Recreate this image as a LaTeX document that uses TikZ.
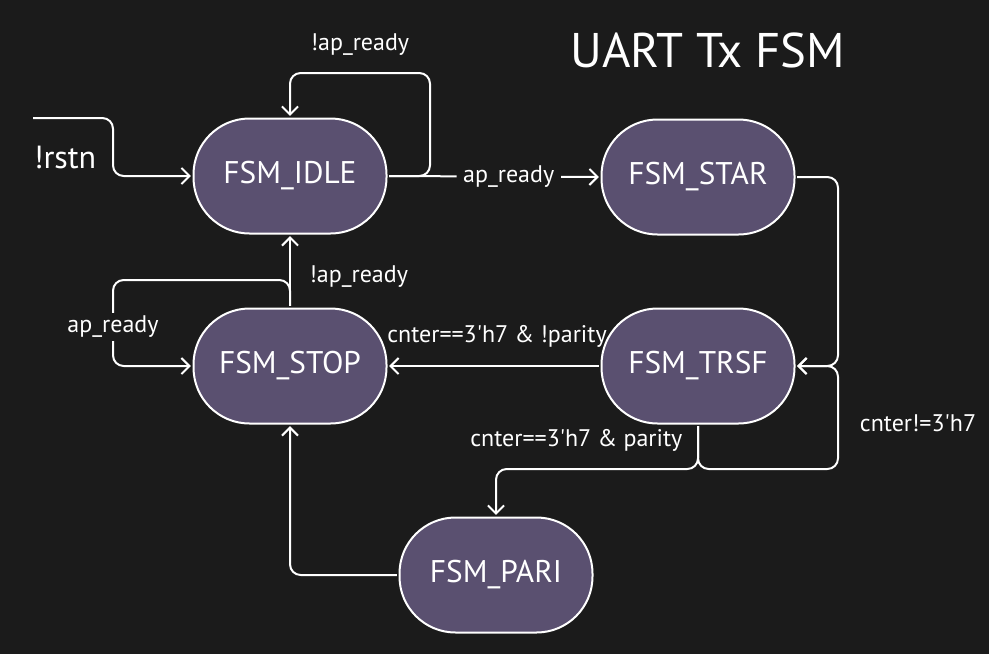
\documentclass[tikz,border=0pt]{standalone}
\usepackage{fontspec}
\setmainfont{PT Sans}
\usetikzlibrary{arrows.meta}
\definecolor{bg}{HTML}{1B1B1B}
\definecolor{statefill}{HTML}{5A5070}
\tikzset{
  state/.style={draw=white, line width=1.5pt, fill=statefill, rounded corners=42pt,
    minimum width=144.75pt, minimum height=86.25pt, text=white,
    font=\fontsize{23.5}{26}\selectfont, outer sep=2pt},
  conn/.style={draw=white, line width=1.5pt, rounded corners=8pt},
  arr/.style={conn, -{Straight Barb[length=6pt,width=12pt,line width=1.5pt]}},
  lab/.style={text=white, font=\fontsize{18}{20}\selectfont, inner sep=1pt},
  labbg/.style={lab, fill=bg, inner xsep=5pt, inner ysep=2pt},
}
\begin{document}
\begin{tikzpicture}[x=0.75pt,y=-0.75pt]
\fill[bg] (0,0) rectangle (989,654);
\useasboundingbox (0,0) rectangle (989,654);

\node[text=white, font=\fontsize{36.5}{40}\selectfont] (title) at (708,50) {UART Tx FSM};

\node[state] (idle) at (290,176) {FSM\_IDLE};
\node[state] (star) at (698,177) {FSM\_STAR};
\node[state] (stop) at (290,366) {FSM\_STOP};
\node[state] (trsf) at (698,366) {FSM\_TRSF};
\node[state] (pari) at (496,575) {FSM\_PARI};

% reset entry
\coordinate (rs) at (33,118);
\draw[arr] (rs) -- (113,118) |- (idle.west);
\node[text=white, font=\fontsize{24}{26}\selectfont] (rstn) at (65,157) {!rstn};

% idle self loop
\draw[arr] (idle.east) -| (430,73) -| (idle.north);
\node[lab] (l1) at (360,45) {!ap\_ready};

% idle -> star
\draw[arr] (idle.east) -- node[labbg, pos=0.57] (l2) {ap\_ready} (star.west);

% star -> trsf
\draw[arr] (star.east) -| (838,300) |- (trsf.east);

% trsf self loop and trsf -> pari
\draw[arr] (trsf.south) |- (838,469) |- (trsf.east);
\draw[arr] (trsf.south) |- (600,469) -| (pari.north);
\node[lab, anchor=east] (l3) at (684,440) {cnter==3\textquotesingle h7 \& parity};
\node[lab] (l4) at (918,423) {cnter!=3\textquotesingle h7};

% trsf -> stop
\draw[arr] (trsf.west) -- (stop.east);
\node[lab] (l5) at (497,336) {cnter==3\textquotesingle h7 \& !parity};

% stop -> idle
\draw[arr] (stop.north) -- (idle.south);
\node[lab, anchor=west] (l6) at (308,277) {!ap\_ready};

% stop self loop
\draw[arr] (stop.north) |- (113,280) |- (stop.west);
\node[labbg] (l7) at (113,327) {ap\_ready};

% pari -> stop
\draw[arr] (pari.west) -| (stop.south);
\end{tikzpicture}
\end{document}
